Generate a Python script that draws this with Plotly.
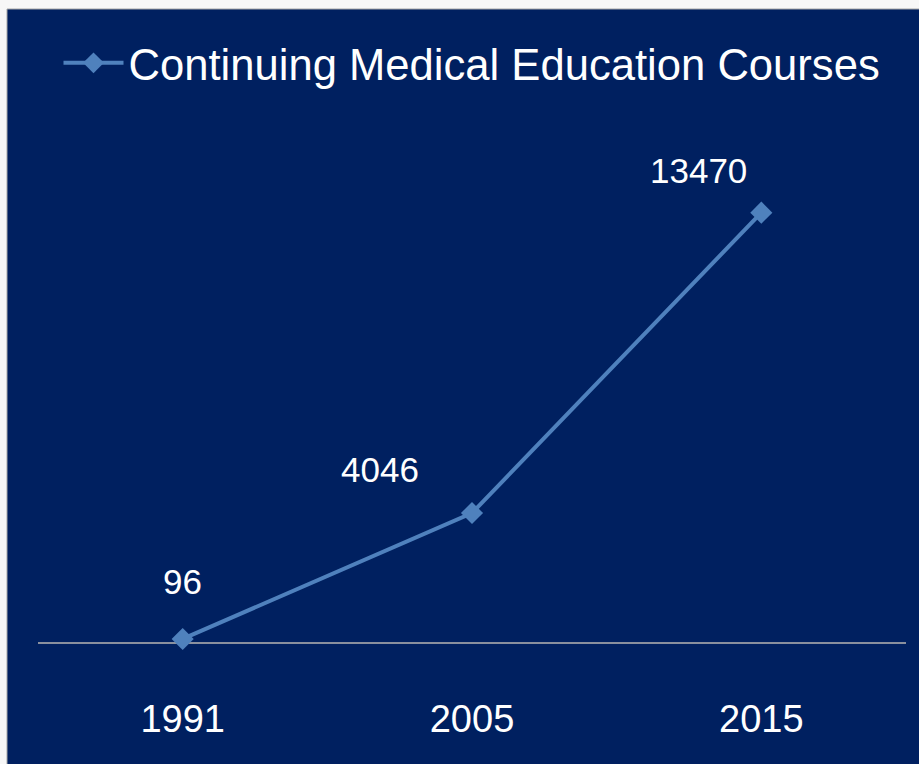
"""Continuing Medical Education Courses

Line chart with data labels on a dark navy panel
"""

import plotly.graph_objects as go

# Data
years = ["1991", "2005", "2015"]
courses = [96, 4046, 13470]
series_name = "Continuing Medical Education Courses"

# Label offsets (px) relative to each point: (x shift, y shift)
label_offsets = [(0, 57), (-92, 44), (-63, 42)]

navy = "#002060"
line_blue = "#4f81bd"

fig = go.Figure()

fig.add_trace(go.Scatter(
    x=years,
    y=courses,
    name=series_name,
    mode="lines+markers",
    line=dict(color=line_blue, width=4),
    marker=dict(symbol="diamond", size=17, color=line_blue),
    cliponaxis=False,
    showlegend=True,
))

# Data labels (x given as category index so "1991" is not read as a number)
for i, (value, (dx, dy)) in enumerate(zip(courses, label_offsets)):
    fig.add_annotation(
        x=i, y=value, text=str(value),
        showarrow=False, xshift=dx, yshift=dy,
        font=dict(size=35, color="white", family="Liberation Sans"),
    )

# Navy panel, leaving a thin light strip on the left and top of the page
fig.add_shape(
    type="rect", xref="paper", yref="paper",
    x0=(7 - 38) / 868, x1=(930 - 38) / 868,
    y0=-(770 - 642) / 510, y1=(642 - 9) / 510,
    fillcolor=navy, line=dict(color="#a6a6a6", width=1),
    layer="below",
)

fig.update_layout(
    width=919,
    height=764,
    margin=dict(l=38, r=13, t=132, b=122),
    paper_bgcolor="#f7f7f7",
    plot_bgcolor="rgba(0,0,0,0)",
    font=dict(family="Liberation Sans", color="white"),
    legend=dict(
        orientation="h",
        x=0.5, xanchor="center",
        y=(642 - 63) / 510, yanchor="middle",
        font=dict(size=43.6, color="white"),
        itemwidth=60,
        bgcolor="rgba(0,0,0,0)",
    ),
    xaxis=dict(
        type="category",
        range=[-0.5, 2.5],
        showline=True,
        linecolor="#8a909e",
        linewidth=2,
        showgrid=False,
        ticks="",
        tickfont=dict(size=38, color="white"),
        ticklabelstandoff=42,
        layer="below traces",
    ),
    yaxis=dict(
        range=[0, 16000],
        visible=False,
        showgrid=False,
        zeroline=False,
    ),
)

# drop the default body margin so the figure fills the window exactly
fig.write_html(
    "out.html",
    config={"displayModeBar": False},
    post_script="document.body.style.margin = '0';",
)
